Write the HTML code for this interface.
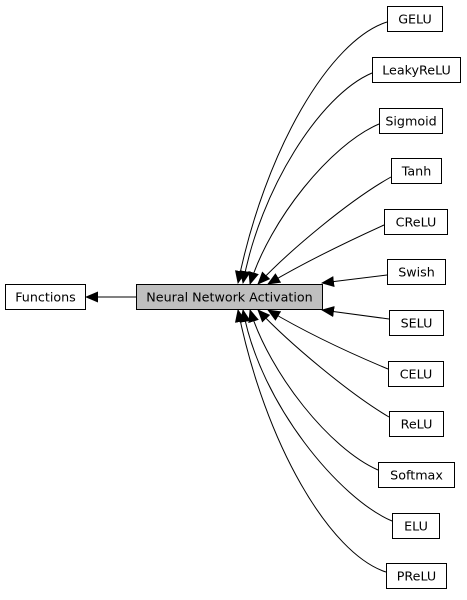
<!DOCTYPE html>
<html><head><style>
html,body{margin:0;padding:0;background:#fff;}
svg text{font-family:"DejaVu Sans","Liberation Sans",sans-serif;font-size:12.7px;fill:#000;}
</style></head><body>
<svg width="467" height="595" viewBox="0 0 467 595" xmlns="http://www.w3.org/2000/svg">
<defs>
<marker id="a" markerWidth="13" markerHeight="11" refX="12" refY="5.5" orient="auto" markerUnits="userSpaceOnUse">
<path d="M0,0 L13,5.5 L0,11 Z" fill="#000"/>
</marker>
</defs>
<g fill="none" stroke="#000" stroke-width="1" marker-end="url(#a)">
<path d="M136,297 L86,297"/>
<path d="M387,22 C330,40 265,150 238,283"/>
<path d="M372,73 C320,95 260,190 243,283"/>
<path d="M379,124 C330,145 270,220 250,284"/>
<path d="M391,177 C350,200 290,250 258,284"/>
<path d="M384,225 C340,245 300,265 268,284"/>
<path d="M387,275 L322,283"/>
<path d="M389,319 L322,310"/>
<path d="M388,369 C340,349 300,329 268,310"/>
<path d="M389,417 C350,394 290,344 258,310"/>
<path d="M378,470 C330,449 270,374 250,310"/>
<path d="M392,521 C340,499 260,404 243,310"/>
<path d="M386,572 C330,554 265,444 238,310"/>
</g>
<g stroke="#000" stroke-width="1">
<rect x="5.5" y="284.5" width="80" height="25" fill="#fff"/>
<rect x="136.5" y="284.5" width="186" height="25" fill="#bfbfbf"/>
<rect x="387.5" y="6.5" width="55" height="25" fill="#fff"/>
<rect x="372.5" y="57.5" width="88" height="25" fill="#fff"/>
<rect x="379.5" y="108.5" width="63" height="25" fill="#fff"/>
<rect x="391.5" y="158.5" width="50" height="25" fill="#fff"/>
<rect x="384.5" y="209.5" width="63" height="25" fill="#fff"/>
<rect x="387.5" y="259.5" width="58" height="25" fill="#fff"/>
<rect x="389.5" y="310.5" width="54" height="25" fill="#fff"/>
<rect x="388.5" y="361.5" width="55" height="25" fill="#fff"/>
<rect x="389.5" y="411.5" width="54" height="25" fill="#fff"/>
<rect x="378.5" y="462.5" width="76" height="25" fill="#fff"/>
<rect x="392.5" y="513.5" width="47" height="25" fill="#fff"/>
<rect x="386.5" y="563.5" width="60" height="25" fill="#fff"/>
</g>
<g text-anchor="middle">
<text x="45.5" y="301.5">Functions</text>
<text x="229.5" y="301.5">Neural Network Activation</text>
<text x="415" y="23.5">GELU</text>
<text x="416.5" y="74.5">LeakyReLU</text>
<text x="411" y="125.5">Sigmoid</text>
<text x="416.5" y="175.5">Tanh</text>
<text x="416" y="226.5">CReLU</text>
<text x="416.5" y="276.5">Swish</text>
<text x="416.5" y="327.5">SELU</text>
<text x="416" y="378.5">CELU</text>
<text x="416.5" y="428.5">ReLU</text>
<text x="416.5" y="479.5">Softmax</text>
<text x="416" y="530.5">ELU</text>
<text x="416.5" y="580.5">PReLU</text>
</g>
</svg>
</body></html>
